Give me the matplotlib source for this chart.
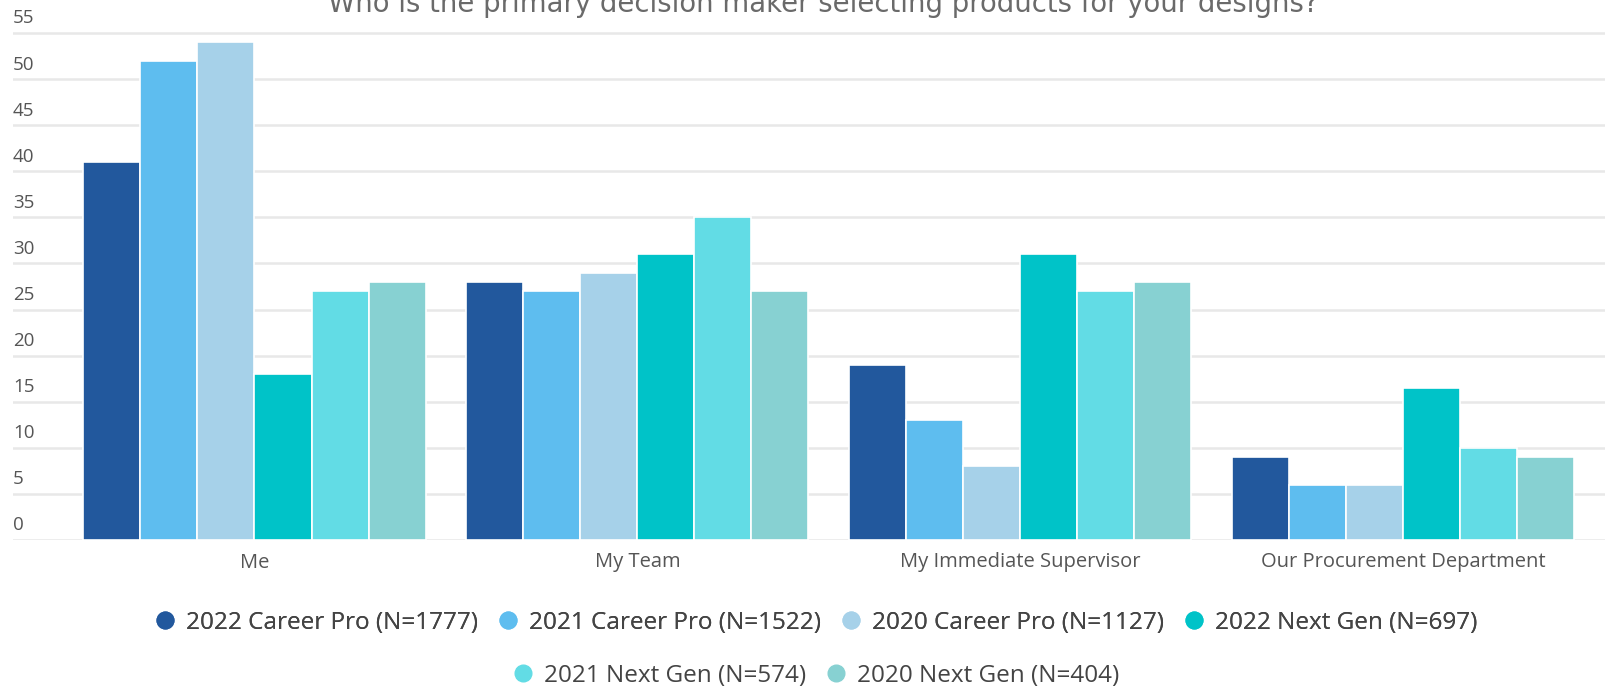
import matplotlib

matplotlib.use("Agg")
import matplotlib.pyplot as plt
import numpy as np
from matplotlib.lines import Line2D

categories = ["Me", "My Team", "My Immediate Supervisor", "Our Procurement Department"]
series_names = [
    "2022 Career Pro (N=1777)",
    "2021 Career Pro (N=1522)",
    "2020 Career Pro (N=1127)",
    "2022 Next Gen (N=697)",
    "2021 Next Gen (N=574)",
    "2020 Next Gen (N=404)",
]
cp_2022 = [41, 28, 19, 9]
cp_2021 = [52, 27, 13, 6]
cp_2020 = [54, 29, 8, 6]
ng_2022 = [18, 31, 31, 16.5]
ng_2021 = [27, 35, 27, 10]
ng_2020 = [28, 27, 28, 9]
series_values = [cp_2022, cp_2021, cp_2020, ng_2022, ng_2021, ng_2020]
colors = ["#22589d", "#5ebdef", "#a6d1e9", "#00c3c8", "#62dce5", "#87d1d2"]
y_ticks = list(range(0, 60, 5))
title = "Who is the primary decision maker selecting products for your designs?"

plt.rcParams["font.family"] = ["Open Sans", "DejaVu Sans"]

W, H = 1606, 692
fig = plt.figure(figsize=(W / 100, H / 100), dpi=100)
fig.patch.set_facecolor("white")

y_top = 55.3
px_per_unit = (540 - 33) / 55
top_px = 540 - y_top * px_per_unit
ax = fig.add_axes([13 / W, 1 - 540 / H, 1 - 13 / W, (540 - top_px) / H])

x = np.arange(len(categories))
bar_w = 0.149
for i, (name, vals, col) in enumerate(zip(series_names, series_values, colors)):
    offset = (i - 2.5) * bar_w
    ax.bar(x + offset, vals, width=bar_w, color=col, edgecolor="white",
           linewidth=1.2, label=name, zorder=3)

spacing = (1403 - 254.5) / 3
ax.set_xlim((13 - 254.5) / spacing, (1606 - 254.5) / spacing)
ax.set_ylim(0, y_top)

for v in y_ticks:
    ax.axhline(v, color="#e8e8e8", linewidth=1.8, zorder=1)
    ax.annotate(str(v), xy=(0, v), xycoords=("axes fraction", "data"),
                xytext=(0, 4), textcoords="offset points", ha="left", va="bottom",
                fontsize=13.5, color="#555555")

ax.set_yticks([])
ax.set_xticks(x)
ax.set_xticklabels(categories, fontsize=14.5, color="#555555")
ax.tick_params(axis="x", length=0, pad=9)
for s in ax.spines.values():
    s.set_visible(False)

fig.text(823 / W, 1 - 12 / H, title, ha="center", va="baseline",
         fontsize=19.8, color="#6a6a6a", family=["DejaVu Sans"])

handles = [Line2D([], [], marker="o", linestyle="none", markersize=12,
                  markerfacecolor=c, markeredgecolor=c) for c in colors]
leg_kw = dict(loc="center", frameon=False, fontsize=17.5, handletextpad=0.35,
              columnspacing=0.75, handlelength=1.0, labelcolor="#444444")
leg1 = fig.legend(handles[:4], series_names[:4], ncol=4,
                  bbox_to_anchor=(815 / W, 1 - 623 / H), **leg_kw)
fig.legend(handles[4:], series_names[4:], ncol=2,
           bbox_to_anchor=(815 / W, 1 - 676 / H), **leg_kw)
fig.add_artist(leg1)

fig.savefig("out.png", dpi=100, facecolor="white")
